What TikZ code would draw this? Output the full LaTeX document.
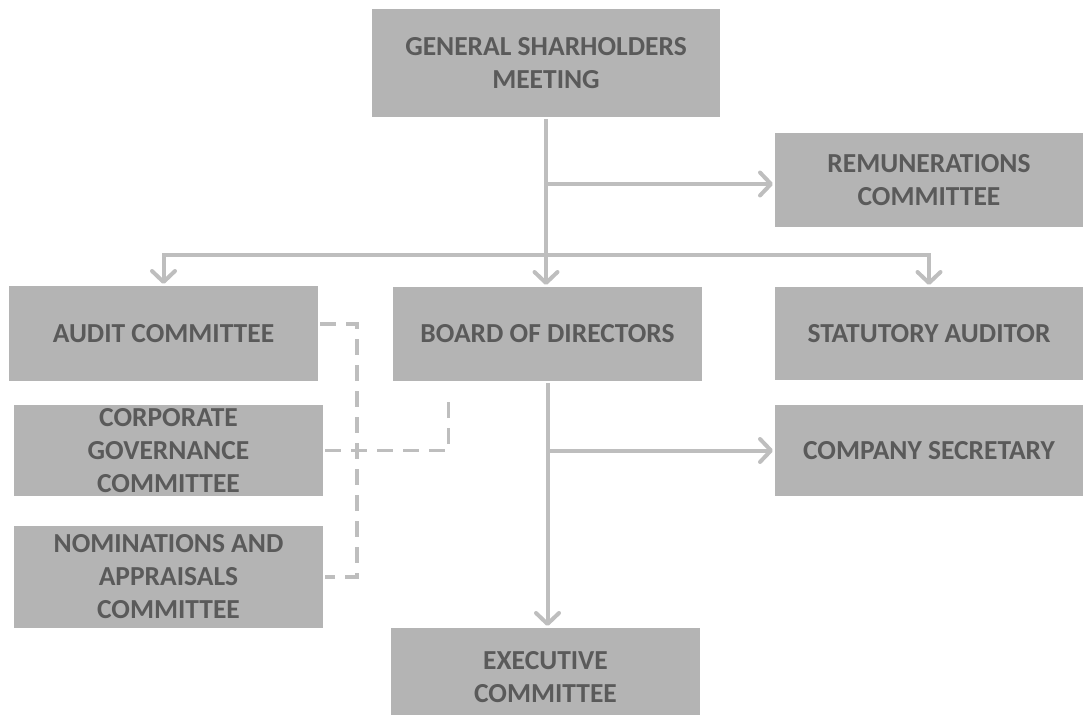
\documentclass[tikz,border=0pt]{standalone}
\usepackage{fontspec}
\setmainfont{Carlito}
\usepackage{tikz}
\usetikzlibrary{arrows.meta,shapes}
\definecolor{boxgray}{RGB}{180,180,180}
\definecolor{textgray}{RGB}{90,90,90}
\definecolor{linegray}{RGB}{190,190,190}

\begin{document}
\begin{tikzpicture}[x=1pt,y=-1pt,->,>={Straight Barb[length=11pt,width=23pt,round]},
                    line width=4pt,draw=linegray,
                    org node/.style={rectangle,fill=boxgray,text=textgray,align=center,inner sep=0pt,
                                     minimum width=309pt,font=\fontsize{27.5}{33}\selectfont\bfseries},
                    dash line/.style={-,dash pattern=on 16pt off 10pt,line width=3.5pt}]

  \clip (0,0) rectangle (1083,714);

  \node[org node,minimum width=348pt,minimum height=108pt] (1) at (546,63) {GENERAL SHARHOLDERS\\MEETING};
  \node[org node,minimum width=308pt,minimum height=94pt] (2) at (929,180) {REMUNERATIONS\\COMMITTEE};
  \node[org node,minimum height=95pt] (3) at (163.5,333.5) {AUDIT COMMITTEE};
  \node[org node,minimum height=94pt] (4) at (547.5,334) {BOARD OF DIRECTORS};
  \node[org node,minimum width=308pt,minimum height=93pt] (5) at (929,333.5) {STATUTORY AUDITOR};
  \node[org node,minimum height=91pt] (6) at (168.5,450.5) {CORPORATE\\GOVERNANCE\\COMMITTEE};
  \node[org node,minimum width=308pt,minimum height=91pt] (7) at (929,450.5) {COMPANY SECRETARY};
  \node[org node,minimum height=102pt] (8) at (168.5,577) {NOMINATIONS AND\\APPRAISALS\\COMMITTEE};
  \node[org node,minimum height=98pt] (9) at (545.5,677) {EXECUTIVE\\COMMITTEE};

  \coordinate (fork) at (546,255);

  \draw (1.south) -- (1.south |- 4.north);
  \draw ([yshift=-4pt]1.south |- 2.west) -- ([yshift=-4pt]2.west);
  \draw (fork) -| (3.north);
  \draw (fork) -| (5.north);
  \draw (4.south) -- (4.south |- 9.north);
  \draw (4.south |- 7.west) -- (7.west);

  \draw[dash line] ([yshift=9.5pt]3.east) -- ++(37,0) |- (8.east);
  \draw[dash line] (6.east) -| ([xshift=-99pt,yshift=-9pt]4.south);
\end{tikzpicture}
\end{document}
